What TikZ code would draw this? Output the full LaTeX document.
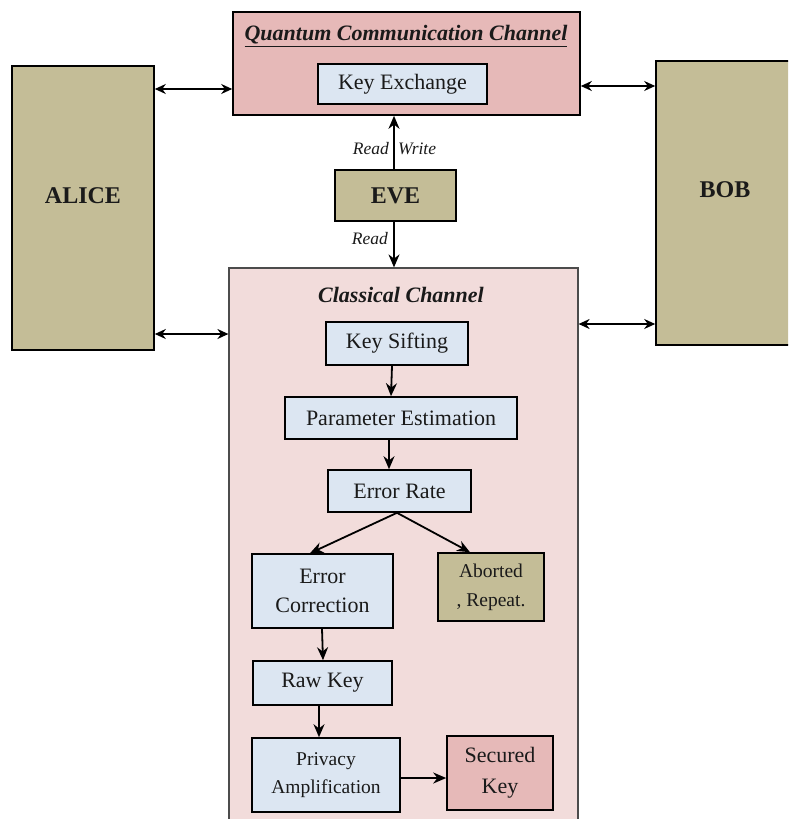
\documentclass[tikz,border=0pt]{standalone}
\usepackage{fontspec}
\setmainfont{Liberation Serif}
\usetikzlibrary{arrows.meta}
\definecolor{qpink}{HTML}{E6B9B8}
\definecolor{cpink}{HTML}{F2DCDB}
\definecolor{lblue}{HTML}{DCE6F2}
\definecolor{tan}{HTML}{C4BD97}
\definecolor{txt}{HTML}{1A1A1A}
\tikzset{
  box/.style={draw=black, line width=1.6pt, rectangle, inner sep=0pt, align=center, text=txt},
  proc/.style={box, fill=lblue, font=\fontsize{22}{29}\selectfont},
  party/.style={box, fill=tan},
  ptext/.style={font=\bfseries\fontsize{24}{26}\selectfont, text=txt, inner sep=0pt},
  arr/.style={line width=1.8pt, -{Stealth[length=13pt,width=11pt]}},
  darr/.style={line width=1.6pt, {Stealth[length=11pt,width=10pt]}-{Stealth[length=11pt,width=10pt]}},
  lab/.style={font=\itshape\fontsize{17.5}{19}\selectfont, text=txt, inner sep=1pt},
  ttl/.style={font=\bfseries\itshape\fontsize{22}{24}\selectfont, text=txt, inner sep=0pt}
}
\begin{document}
\begin{tikzpicture}[x=1pt,y=-1pt]
\useasboundingbox (0,0) rectangle (788,819);
\clip (0,0) rectangle (788,819);
% channels
\node[box, fill=qpink, minimum width=347, minimum height=103] (qc) at (406.5,63.5) {};
\node[ttl] (qct) at (406,36) {\underline{Quantum Communication Channel}};
\node[box, fill=cpink, draw=black!70, line width=1.2pt, minimum width=349, minimum height=570] (cc) at (403.5,553) {};
\node[ttl] (cct) at (401,295) {Classical Channel};
% parties
\node[party, minimum width=142, minimum height=284] (alice) at (83,208) {};
\node[ptext] (alicet) at (83,196) {ALICE};
\node[party, minimum width=140, minimum height=284] (bob) at (726,203) {};
\node[ptext] (bobt) at (725,190) {BOB};
\node[party, ptext, minimum width=121, minimum height=51] (eve) at (395.5,195.5) {EVE};
% process boxes
\node[proc, minimum width=169, minimum height=40] (ke) at (402.5,84) {Key Exchange};
\node[proc, minimum width=142, minimum height=43] (ks) at (397,343.5) {Key Sifting};
\node[proc, minimum width=232, minimum height=42] (pe) at (401,418) {Parameter Estimation};
\node[proc, minimum width=143, minimum height=42] (er) at (399.5,491) {Error Rate};
\node[proc, minimum width=141, minimum height=74] (ec) at (322.5,591) {Error\\Correction};
\node[proc, fill=tan, font=\fontsize{19.5}{29}\selectfont, minimum width=106, minimum height=68] (ab) at (491,587) {Aborted\\, Repeat.};
\node[proc, minimum width=139, minimum height=44] (rk) at (322.5,683) {Raw Key};
\node[proc, font=\fontsize{19.5}{28}\selectfont, minimum width=148, minimum height=74] (pa) at (326,775) {Privacy\\Amplification};
\node[proc, fill=qpink, font=\fontsize{22}{31}\selectfont, minimum width=106, minimum height=74] (sk) at (500,773) {Secured\\Key};
% labels
\node[lab, anchor=east] (r1) at (390,149) {Read};
\node[lab, anchor=west] (w1) at (397,149) {Write};
\node[lab, anchor=east] (r2) at (389,239) {Read};
% arrows
\draw[arr] (394,0 |- eve.north) -- (394,0 |- qc.south);
\draw[arr] (394,0 |- eve.south) -- (394,0 |- cc.north);
\draw[darr] (alice.east |- 0,89) -- (qc.west |- 0,89);
\draw[darr] (alice.east |- 0,334) -- (cc.west |- 0,334);
\draw[darr] (qc.east |- 0,86) -- (bob.west |- 0,86);
\draw[darr] (cc.east |- 0,324) -- (bob.west |- 0,324);
\draw[arr] (392,0 |- ks.south) -- (391,0 |- pe.north);
\draw[arr] (389,0 |- pe.south) -- (389,0 |- er.north);
\draw[arr] (397,0 |- er.south) -- (310,0 |- ec.north);
\draw[arr] (397,0 |- er.south) -- (470,0 |- ab.north);
\draw[arr] (322,0 |- ec.south) -- (323,0 |- rk.north);
\draw[arr] (319,0 |- rk.south) -- (319,0 |- pa.north);
\draw[arr] (pa.east |- 0,778) -- (sk.west |- 0,778);
\end{tikzpicture}
\end{document}
